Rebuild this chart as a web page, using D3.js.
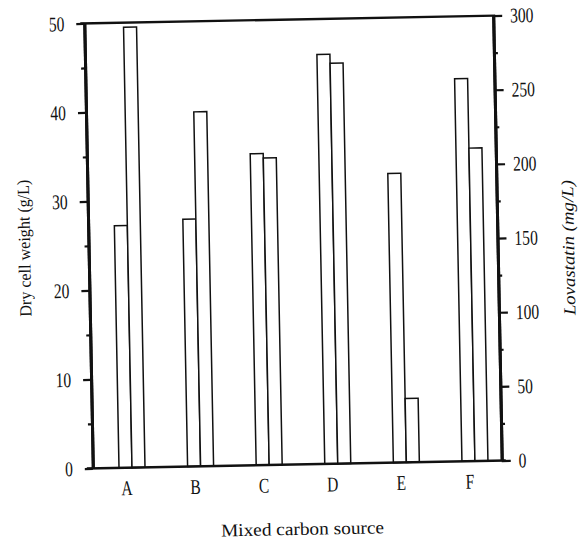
<!DOCTYPE html>
<html><head><meta charset="utf-8">
<script src="https://cdn.jsdelivr.net/npm/d3@7"></script>
<style>body{margin:0;background:#fff}svg{display:block}</style>
</head><body>
<svg id="c" width="588" height="543"></svg>
<script>
const categories = ["A", "B", "C", "D", "E", "F"];
const dryCellWeight = [27.2, 27.8, 35, 46, 32.5, 43];
const lovastatin = [297, 239, 207, 270, 43, 211];
const leftTicks = [0, 10, 20, 30, 40, 50];
const leftMinor = [5, 15, 25, 35, 45];
const rightTicks = [0, 50, 100, 150, 200, 250, 300];
const rightMinor = [25, 75, 125, 175, 225, 275];

const L = 88.5, R = 497.5, T = 19.5, B = 464.5;
const FONT = "Liberation Serif, Times New Roman, serif";
const svg = d3.select("#c");
svg.append("rect").attr("width", 588).attr("height", 543).attr("fill", "#fff");
const g = svg.append("g").attr("transform", "rotate(-1.1,293,242)");

const x = d3.scalePoint().domain(categories).range([127.7, 470.7]);
const yL = d3.scaleLinear().domain([0, 50]).range([B, T]);
const yR = d3.scaleLinear().domain([0, 300]).range([B, T]);
const bw = 13;

// bars
const data = categories.map((c, i) => ({ c, d: dryCellWeight[i], l: lovastatin[i] }));
g.selectAll("rect.dry").data(data).join("rect").attr("class", "dry")
  .attr("x", d => x(d.c) - bw).attr("width", bw)
  .attr("y", d => yL(d.d)).attr("height", d => yL(0) - yL(d.d))
  .attr("fill", "#fff").attr("stroke", "#111").attr("stroke-width", 1.5);
g.selectAll("rect.lov").data(data).join("rect").attr("class", "lov")
  .attr("x", d => x(d.c)).attr("width", bw)
  .attr("y", d => yR(d.l)).attr("height", d => yR(0) - yR(d.l))
  .attr("fill", "#fff").attr("stroke", "#111").attr("stroke-width", 1.5);

// frame top & bottom
g.append("line").attr("x1", L - 4).attr("x2", R + 2).attr("y1", T).attr("y2", T)
  .attr("stroke", "#111").attr("stroke-width", 2.4);
g.append("line").attr("x1", L - 6).attr("x2", R + 4).attr("y1", B).attr("y2", B)
  .attr("stroke", "#111").attr("stroke-width", 2.4);

function condText(sel, sx) {
  sel.each(function () {
    const t = d3.select(this);
    const tx = +t.attr("x") || 0;
    t.attr("x", null).attr("transform", `translate(${tx},0) scale(${sx},1)`);
  });
}

// left axis
const axL = g.append("g").attr("transform", `translate(${L},0)`)
  .call(d3.axisLeft(yL).tickValues(leftTicks).tickSize(8).tickPadding(12).tickSizeOuter(0));
const axLm = g.append("g").attr("transform", `translate(${L},0)`)
  .call(d3.axisLeft(yL).tickValues(leftMinor).tickSize(4).tickFormat("").tickSizeOuter(0));
// right axis
const axR = g.append("g").attr("transform", `translate(${R},0)`)
  .call(d3.axisRight(yR).tickValues(rightTicks).tickSize(9).tickPadding(8).tickSizeOuter(0));
const axRm = g.append("g").attr("transform", `translate(${R},0)`)
  .call(d3.axisRight(yR).tickValues(rightMinor).tickSize(4).tickFormat("").tickSizeOuter(0));

[axL, axLm, axR, axRm].forEach(a => {
  a.select(".domain").attr("stroke", "#111").attr("stroke-width", 3);
  a.selectAll(".tick line").attr("stroke", "#111").attr("stroke-width", 2.2);
  a.selectAll(".tick text").attr("font-family", FONT).attr("font-size", 21).attr("fill", "#111");
});
condText(axL.selectAll(".tick text"), 0.74);
condText(axR.selectAll(".tick text"), 0.74);

// category labels
g.selectAll("text.cat").data(categories).join("text").attr("class", "cat")
  .attr("transform", d => `translate(${x(d) - 5.5},492) scale(0.74,1)`)
  .attr("text-anchor", "middle").attr("font-family", FONT).attr("font-size", 21)
  .attr("fill", "#111").text(d => d);

// axis titles
g.append("text").attr("x", 297).attr("y", 535).attr("text-anchor", "middle")
  .attr("font-family", FONT).attr("font-size", 18).attr("fill", "#111")
  .attr("textLength", 163).attr("lengthAdjust", "spacingAndGlyphs")
  .text("Mixed carbon source");
g.append("text").attr("transform", "translate(30,243) rotate(-90)").attr("text-anchor", "middle")
  .attr("font-family", FONT).attr("font-size", 17).attr("fill", "#111")
  .attr("textLength", 137).attr("lengthAdjust", "spacingAndGlyphs")
  .text("Dry cell weight (g/L)");
g.append("text").attr("transform", "translate(574,253) rotate(-90)").attr("text-anchor", "middle")
  .attr("font-family", FONT).attr("font-size", 17).attr("font-style", "italic").attr("fill", "#111")
  .attr("textLength", 135).attr("lengthAdjust", "spacingAndGlyphs")
  .text("Lovastatin (mg/L)");
</script>
</body></html>
